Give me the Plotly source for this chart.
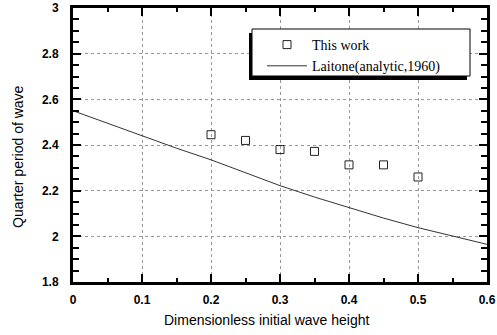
import plotly.graph_objects as go

# Data
work_x = [0.2, 0.25, 0.3, 0.35, 0.4, 0.45, 0.5]
work_y = [2.445, 2.42, 2.38, 2.372, 2.313, 2.313, 2.26]

laitone_x = [0.0, 0.05, 0.1, 0.15, 0.2, 0.25, 0.3, 0.35, 0.4, 0.45, 0.5, 0.55, 0.6]
laitone_y = [2.55, 2.495, 2.44, 2.386, 2.335, 2.28, 2.222, 2.172, 2.125, 2.08, 2.038, 2.0, 1.965]

x_ticks = [0, 0.1, 0.2, 0.3, 0.4, 0.5, 0.6]
x_labels = ["0", "0.1", "0.2", "0.3", "0.4", "0.5", "0.6"]
y_ticks = [1.8, 2.0, 2.2, 2.4, 2.6, 2.8, 3.0]
y_labels = ["1.8", "2", "2.2", "2.4", "2.6", "2.8", "3"]

W, H = 497, 335
L, R, T, B = 73, 10, 8, 53

fig = go.Figure()
fig.add_trace(go.Scatter(
    x=work_x, y=work_y, mode="markers", name="This work",
    marker=dict(symbol="square-open", size=8, color="#222", line=dict(width=1)),
))
fig.add_trace(go.Scatter(
    x=laitone_x, y=laitone_y, mode="lines", name="Laitone(analytic,1960)",
    line=dict(color="#333", width=1),
))

axis_common = dict(
    showline=True, linecolor="black", linewidth=3, mirror="allticks",
    ticks="inside", tickcolor="black", tickwidth=2, ticklen=8,
    showgrid=True, gridcolor="#999", gridwidth=1, griddash="dot",
    zeroline=False, automargin=False,
    tickfont=dict(family="Liberation Sans, Arial", size=12, color="black", weight="bold"),
)

fig.update_xaxes(
    range=[0, 0.6], tickvals=x_ticks, ticktext=x_labels,
    minor=dict(dtick=0.05, ticks="inside", ticklen=4, tickwidth=2, tickcolor="black", showgrid=False),
    ticklabelstandoff=5,
    **axis_common,
)
fig.update_yaxes(
    range=[1.8, 3.0], tickvals=y_ticks, ticktext=y_labels,
    minor=dict(dtick=0.05, ticks="inside", ticklen=6, tickwidth=2, tickcolor="black", showgrid=False),
    ticklabelstandoff=9,
    **axis_common,
)

pw = W - L - R
ph = H - T - B

def px_to_paper_x(px):
    return (px - L) / pw

def px_to_paper_y(py):
    return (H - B - py) / ph

# Axis titles
fig.add_annotation(
    text="Dimensionless initial wave height", xref="paper", yref="paper",
    x=px_to_paper_x(267), y=px_to_paper_y(320), showarrow=False,
    font=dict(family="Liberation Sans, Arial", size=14, color="black"),
    xanchor="center", yanchor="middle",
)
fig.add_annotation(
    text="Quarter period of wave", xref="paper", yref="paper",
    x=px_to_paper_x(18), y=px_to_paper_y(157), showarrow=False, textangle=-90,
    font=dict(family="Liberation Sans, Arial", size=14, color="black"),
    xanchor="center", yanchor="middle",
)

# Legend frame with drop shadow (drawn as shapes behind the legend)
leg_l, leg_t, leg_r, leg_b = 252, 29, 470, 76
fig.add_shape(
    type="rect", xref="paper", yref="paper",
    x0=px_to_paper_x(leg_l - 3), x1=px_to_paper_x(leg_r - 3),
    y0=px_to_paper_y(leg_b + 4), y1=px_to_paper_y(leg_t + 4),
    fillcolor="black", line=dict(width=0), layer="above",
)
fig.add_shape(
    type="rect", xref="paper", yref="paper",
    x0=px_to_paper_x(leg_l), x1=px_to_paper_x(leg_r),
    y0=px_to_paper_y(leg_b), y1=px_to_paper_y(leg_t),
    fillcolor="white", line=dict(width=1, color="black"), layer="above",
)

fig.update_layout(
    width=W, height=H,
    margin=dict(l=L, r=R, t=T, b=B, autoexpand=False),
    paper_bgcolor="white", plot_bgcolor="white",
    showlegend=True,
    legend=dict(
        x=px_to_paper_x(262), y=px_to_paper_y(29),
        xanchor="left", yanchor="top",
        bgcolor="rgba(0,0,0,0)", borderwidth=0,
        font=dict(family="Liberation Serif, Times New Roman", size=14, color="black"),
        itemwidth=40, tracegroupgap=0,
    ),
)

fig.write_html("out.html")
